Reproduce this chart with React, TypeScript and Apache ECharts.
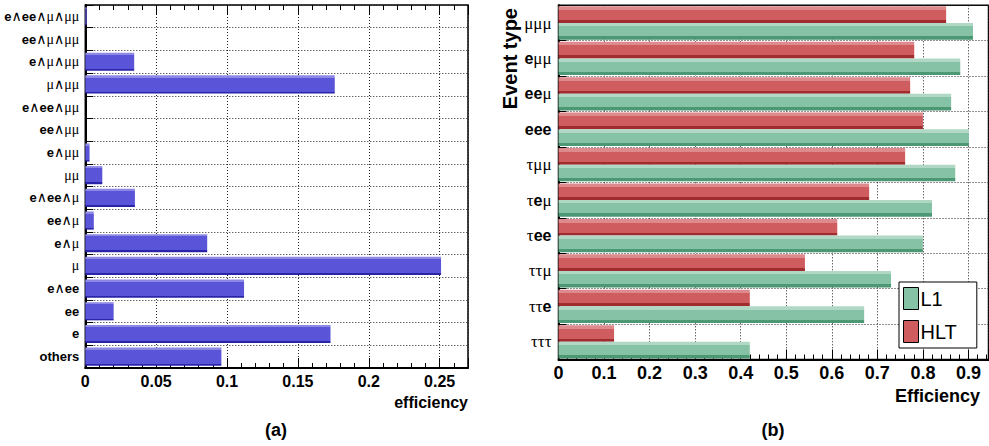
import React, { useEffect, useRef } from "react";
import * as echarts from "echarts";

// ---- Panel (a): event categories listed bottom -> top ----
const catsA = [
  "others", "e", "ee", "e∧ee", "μ", "e∧μ", "ee∧μ", "e∧ee∧μ",
  "μμ", "e∧μμ", "ee∧μμ", "e∧ee∧μμ", "μ∧μμ", "e∧μ∧μμ", "ee∧μ∧μμ", "e∧ee∧μ∧μμ",
];
const effA = [
  0.096, 0.173, 0.020, 0.112, 0.251, 0.086, 0.006, 0.035,
  0.012, 0.003, 0, 0, 0.176, 0.0345, 0, 0.001,
];
const ticksA = { min: 0, max: 0.27, interval: 0.05 };

// ---- Panel (b): event types listed bottom -> top ----
const catsB = ["τττ", "ττe", "ττμ", "τee", "τeμ", "τμμ", "eee", "eeμ", "eμμ", "μμμ"];
const effL1 = [0.420, 0.671, 0.730, 0.800, 0.820, 0.871, 0.901, 0.862, 0.882, 0.910];
const effHLT = [0.122, 0.420, 0.541, 0.612, 0.682, 0.761, 0.800, 0.772, 0.781, 0.851];
const ticksB = { min: 0, max: 0.944, interval: 0.1 };

const FONT = '"Liberation Sans", Arial, Helvetica, sans-serif';
const GREEK = '"Liberation Serif", "DejaVu Serif", serif';

const grad = (light: string, main: string, dark: string, a: number, b: number) =>
  new echarts.graphic.LinearGradient(0, 0, 0, 1, [
    { offset: 0, color: light },
    { offset: a, color: light },
    { offset: a, color: main },
    { offset: b, color: main },
    { offset: b, color: dark },
    { offset: 1, color: dark },
  ]);

const greekFmt = (v: string) => v.replace(/([μτ∧]+)/g, "{g|$1}");

const dotted = { color: "#222", width: 1, type: [1, 2] as number[] };

export default function App() {
  const ref = useRef<HTMLDivElement>(null);
  useEffect(() => {
    if (!ref.current) return;
    const chart = echarts.init(ref.current, null, { renderer: "svg" });
    const gA = { left: 85.3, top: 5, width: 382.7, height: 363 };
    const gB = { left: 558.5, top: 5.3, width: 430, height: 354.2 };
    const option: any = {
      animation: false,
      backgroundColor: "#fff",
      textStyle: { fontFamily: FONT },
      grid: [
        { ...gA, show: true, borderColor: "#000", borderWidth: 1.5, containLabel: false },
        { ...gB, show: true, borderColor: "#000", borderWidth: 1.5, containLabel: false },
      ],
      legend: {
        data: [
          { name: "L1", itemStyle: { color: "#86c2a6", borderColor: "#000", borderWidth: 1 } },
          { name: "HLT", itemStyle: { color: "#cf5c5f", borderColor: "#000", borderWidth: 1 } },
        ],
        orient: "vertical",
        left: 899,
        top: 282,
        icon: "rect",
        itemWidth: 15,
        itemHeight: 22,
        itemGap: 10,
        padding: [5, 20, 5, 4],
        borderColor: "#000",
        borderWidth: 1,
        backgroundColor: "#fff",
        textStyle: { fontFamily: FONT, fontSize: 20, color: "#000", padding: [0, 0, 0, -3] },
        selectedMode: false,
      },
      xAxis: [
        {
          gridIndex: 0, type: "value", position: "bottom", ...ticksA,
          axisLine: { show: true, lineStyle: { color: "#000", width: 2 } },
          axisTick: { show: true, inside: true, length: 10, lineStyle: { color: "#000" } },
          minorTick: { show: true, splitNumber: 5, length: 5, lineStyle: { color: "#000" } },
          splitLine: { show: true, lineStyle: dotted },
          axisLabel: {
            show: true, margin: 5, color: "#000", fontFamily: FONT, fontWeight: "bold", fontSize: 16,
            showMaxLabel: false,
            formatter: (v: number) => String(parseFloat(v.toFixed(2))),
          },
        },
        {
          gridIndex: 0, type: "value", position: "top", ...ticksA,
          axisLine: { show: false },
          axisTick: { show: true, inside: true, length: 10, lineStyle: { color: "#000" } },
          minorTick: { show: true, splitNumber: 5, length: 5, lineStyle: { color: "#000" } },
          splitLine: { show: false },
          axisLabel: { show: false },
        },
        {
          gridIndex: 1, type: "value", position: "bottom", ...ticksB,
          axisLine: { show: true, lineStyle: { color: "#000", width: 2 } },
          axisTick: { show: true, inside: true, length: 10, lineStyle: { color: "#000" } },
          minorTick: { show: true, splitNumber: 5, length: 5, lineStyle: { color: "#000" } },
          splitLine: { show: true, lineStyle: dotted },
          axisLabel: {
            show: true, margin: 4, color: "#000", fontFamily: FONT, fontWeight: "bold", fontSize: 18,
            showMaxLabel: false,
            formatter: (v: number) => String(parseFloat(v.toFixed(2))),
          },
        },
      ],
      yAxis: [
        {
          gridIndex: 0, type: "category", data: catsA,
          axisLine: { show: true, lineStyle: { color: "#000", width: 2 } },
          axisTick: { show: true, inside: true, length: 8, lineStyle: { color: "#000" } },
          splitLine: { show: true, lineStyle: dotted },
          axisLabel: {
            margin: 6, color: "#000", fontFamily: FONT, fontWeight: "bold", fontSize: 13,
            formatter: greekFmt,
            rich: { g: { fontFamily: GREEK, fontWeight: "normal", fontSize: 14, color: "#000" } },
          },
        },
        {
          gridIndex: 1, type: "category", data: catsB,
          axisLine: { show: true, lineStyle: { color: "#000", width: 2 } },
          axisTick: { show: true, inside: true, length: 8, lineStyle: { color: "#000" } },
          splitLine: { show: true, lineStyle: dotted },
          axisLabel: {
            margin: 7, color: "#000", fontFamily: FONT, fontWeight: "bold", fontSize: 16,
            formatter: greekFmt,
            rich: { g: { fontFamily: GREEK, fontWeight: "normal", fontSize: 17, color: "#000" } },
          },
        },
      ],
      series: [
        {
          name: "a", type: "bar", xAxisIndex: 0, yAxisIndex: 0, data: effA,
          barWidth: "80%",
          itemStyle: { color: grad("#8c88e4", "#5a55d8", "#2a24a8", 0.12, 0.9) },
        },
        {
          name: "HLT", type: "bar", xAxisIndex: 2, yAxisIndex: 1, data: effHLT,
          barGap: "0%", barCategoryGap: "6%",
          itemStyle: { color: grad("#de8a8c", "#cf5c5f", "#a02c30", 0.22, 0.82) },
        },
        {
          name: "L1", type: "bar", xAxisIndex: 2, yAxisIndex: 1, data: effL1,
          barGap: "0%", barCategoryGap: "6%",
          itemStyle: { color: grad("#b0d8c4", "#86c2a6", "#4c9874", 0.2, 0.8) },
        },
      ],
      graphic: [
        { type: "text", x: 468, y: 402, style: { text: "efficiency", font: `bold 16px ${FONT}`, fill: "#000", textAlign: "right", textVerticalAlign: "middle" } },
        { type: "text", x: 980, y: 396, style: { text: "Efficiency", font: `bold 18px ${FONT}`, fill: "#000", textAlign: "right", textVerticalAlign: "middle" } },
        { type: "text", x: 510, y: 8, rotation: Math.PI / 2, style: { text: "Event type", font: `bold 20px ${FONT}`, fill: "#000", textAlign: "right", textVerticalAlign: "middle" } },
        { type: "text", x: 276, y: 430, style: { text: "(a)", font: `bold 18px ${FONT}`, fill: "#000", textAlign: "center", textVerticalAlign: "middle" } },
        { type: "text", x: 773, y: 430, style: { text: "(b)", font: `bold 18px ${FONT}`, fill: "#000", textAlign: "center", textVerticalAlign: "middle" } },
      ],
    };
    chart.setOption(option);
    return () => chart.dispose();
  }, []);
  return (
    <div
      ref={ref}
      style={{ position: "absolute", left: 0, top: 0, width: 989, height: 446, background: "#fff" }}
    />
  );
}
